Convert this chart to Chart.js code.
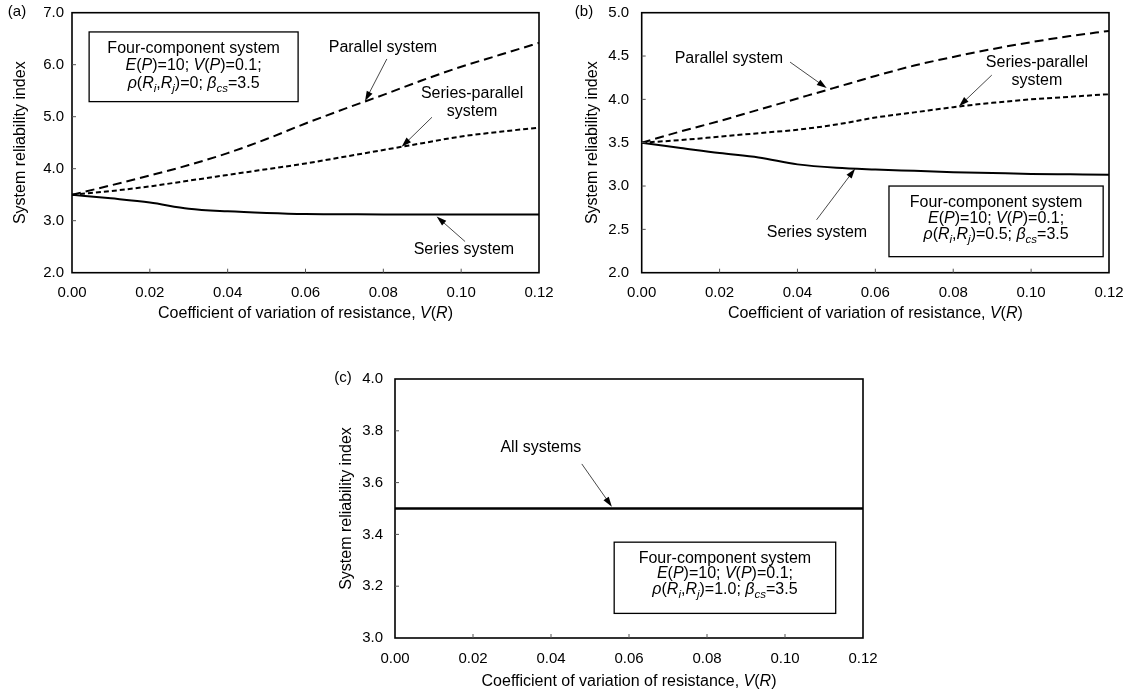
<!DOCTYPE html>
<html>
<head>
<meta charset="utf-8">
<title>System reliability index vs V(R)</title>
<script src="https://cdn.jsdelivr.net/npm/chart.js@4.4.0/dist/chart.umd.min.js"></script>
<style>
  body { margin: 0; background: #fff; width: 1128px; height: 694px; position: relative; overflow: hidden; }
  .panel { position: absolute; }
</style>
</head>
<body>
<div class="panel" style="left:0;top:0;width:560px;height:330px"><canvas id="chart-a"></canvas></div>
<div class="panel" style="left:560px;top:0;width:568px;height:330px"><canvas id="chart-b"></canvas></div>
<div class="panel" style="left:300px;top:360px;width:600px;height:334px"><canvas id="chart-c"></canvas></div>
<script>
// Data
const vrValues = [0, 0.01, 0.02, 0.03, 0.04, 0.05, 0.06, 0.07, 0.08, 0.09, 0.10, 0.11, 0.12];

// (a) rho = 0
const parallelA       = [3.50, 3.68, 3.87, 4.07, 4.30, 4.57, 4.87, 5.15, 5.42, 5.70, 5.96, 6.19, 6.42];
const seriesParallelA = [3.50, 3.57, 3.66, 3.77, 3.88, 3.99, 4.10, 4.23, 4.36, 4.49, 4.62, 4.71, 4.79];
const seriesA         = [3.50, 3.43, 3.35, 3.23, 3.18, 3.15, 3.13, 3.125, 3.12, 3.12, 3.12, 3.12, 3.12];

// (b) rho = 0.5
const parallelB       = [3.50, 3.63, 3.75, 3.88, 4.01, 4.14, 4.27, 4.39, 4.49, 4.58, 4.66, 4.73, 4.79];
const seriesParallelB = [3.50, 3.53, 3.57, 3.61, 3.65, 3.71, 3.79, 3.85, 3.91, 3.96, 4.00, 4.03, 4.06];
const seriesB         = [3.50, 3.44, 3.38, 3.33, 3.25, 3.21, 3.19, 3.175, 3.16, 3.15, 3.14, 3.135, 3.13];

// (c) rho = 1.0
const allSystemsC     = [3.50, 3.50, 3.50, 3.50, 3.50, 3.50, 3.50, 3.50, 3.50, 3.50, 3.50, 3.50, 3.50];

const xTicks = [0, 0.02, 0.04, 0.06, 0.08, 0.10, 0.12];
const yTicksA = [2.0, 3.0, 4.0, 5.0, 6.0, 7.0];
const yTicksB = [2.0, 2.5, 3.0, 3.5, 4.0, 4.5, 5.0];
const yTicksC = [3.0, 3.2, 3.4, 3.6, 3.8, 4.0];

const X_TITLE = 'Coefficient of variation of resistance, *V*(*R*)';
const Y_TITLE = 'System reliability index';
const BOX_L1 = 'Four-component system';
const BOX_L2 = '*E*(*P*)=10; *V*(*P*)=0.1;';

const FONT = '"Liberation Sans", Arial, sans-serif';
const TICK_SIZE = 15;
const TEXT_SIZE = 16;

// Styles for the three curves
const SOLID = [];
const LONG_DASH = [9, 5];
const SHORT_DASH = [5, 3];

// ---- rich text helpers (italic with *...*, subscript with _{...}) ----
function parseRich(str) {
  const segs = [];
  let italic = false, sub = false, buf = '';
  const push = () => { if (buf) segs.push({ t: buf, i: italic, s: sub }); buf = ''; };
  for (let k = 0; k < str.length; k++) {
    const c = str[k];
    if (c === '*') { push(); italic = !italic; }
    else if (c === '_' && str[k + 1] === '{') { push(); sub = true; k++; }
    else if (c === '}' && sub) { push(); sub = false; }
    else buf += c;
  }
  push();
  return segs;
}

function segFont(seg, size) {
  const s = seg.s ? size * 0.72 : size;
  return (seg.i ? 'italic ' : '') + s + 'px ' + FONT;
}

function drawRich(ctx, str, cx, cy, size) {
  const segs = parseRich(str);
  let w = 0;
  segs.forEach(seg => { ctx.font = segFont(seg, size); w += ctx.measureText(seg.t).width; });
  let x = cx - w / 2;
  ctx.textAlign = 'left';
  ctx.textBaseline = 'middle';
  segs.forEach(seg => {
    ctx.font = segFont(seg, size);
    ctx.fillText(seg.t, x, cy + (seg.s ? size * 0.3 : 0));
    x += ctx.measureText(seg.t).width;
  });
}

function drawArrow(ctx, x1, y1, x2, y2) {
  const ang = Math.atan2(y2 - y1, x2 - x1);
  const len = 10, half = 3.2;
  ctx.strokeStyle = '#333';
  ctx.lineWidth = 0.9;
  ctx.beginPath();
  ctx.moveTo(x1, y1);
  ctx.lineTo(x2 - Math.cos(ang) * len * 0.8, y2 - Math.sin(ang) * len * 0.8);
  ctx.stroke();
  ctx.fillStyle = '#000';
  ctx.beginPath();
  ctx.moveTo(x2, y2);
  ctx.lineTo(x2 - Math.cos(ang) * len - Math.sin(ang) * half, y2 - Math.sin(ang) * len + Math.cos(ang) * half);
  ctx.lineTo(x2 - Math.cos(ang) * len + Math.sin(ang) * half, y2 - Math.sin(ang) * len - Math.cos(ang) * half);
  ctx.closePath();
  ctx.fill();
}

// Frame, inward ticks, titles and annotations
const decorPlugin = {
  id: 'decor',
  afterDraw(chart) {
    const cfg = chart.options.plugins.decor;
    const { ctx, chartArea: { left, top, right, bottom }, scales: { x, y } } = chart;
    ctx.save();

    // plot frame
    ctx.strokeStyle = '#000';
    ctx.lineWidth = 1.6;
    ctx.setLineDash([]);
    ctx.strokeRect(left, top, right - left, bottom - top);

    // inward tick marks
    ctx.lineWidth = 1;
    ctx.strokeStyle = '#555';
    ctx.beginPath();
    x.ticks.forEach(t => {
      const px = x.getPixelForValue(t.value);
      if (px > left + 1 && px < right - 1) { ctx.moveTo(px, bottom); ctx.lineTo(px, bottom - 4); }
    });
    y.ticks.forEach(t => {
      const py = y.getPixelForValue(t.value);
      if (py > top + 1 && py < bottom - 1) { ctx.moveTo(left, py); ctx.lineTo(left + 4, py); }
    });
    ctx.stroke();

    ctx.fillStyle = '#000';
    // panel label
    ctx.font = TICK_SIZE + 'px ' + FONT;
    ctx.textAlign = 'center';
    ctx.textBaseline = 'middle';
    ctx.fillText(cfg.label, cfg.labelX, cfg.labelY);

    // axis titles
    drawRich(ctx, X_TITLE, (left + right) / 2, cfg.xTitleY, TEXT_SIZE);
    ctx.save();
    ctx.translate(cfg.yTitleX, (top + bottom) / 2);
    ctx.rotate(-Math.PI / 2);
    drawRich(ctx, Y_TITLE, 0, 0, TEXT_SIZE);
    ctx.restore();

    // curve labels with arrows
    cfg.notes.forEach(n => {
      n.lines.forEach((ln, k) => {
        drawRich(ctx, ln, x.getPixelForValue(n.tx), y.getPixelForValue(n.ty) + k * 18, TEXT_SIZE);
      });
      drawArrow(ctx, x.getPixelForValue(n.ax), y.getPixelForValue(n.ay),
                     x.getPixelForValue(n.hx), y.getPixelForValue(n.hy));
    });

    // parameter box
    const b = cfg.box;
    const bx1 = x.getPixelForValue(b.x1), bx2 = x.getPixelForValue(b.x2);
    const by1 = y.getPixelForValue(b.y1), by2 = y.getPixelForValue(b.y2);
    ctx.fillStyle = '#fff';
    ctx.fillRect(bx1, by1, bx2 - bx1, by2 - by1);
    ctx.strokeStyle = '#000';
    ctx.lineWidth = 1.3;
    ctx.strokeRect(bx1, by1, bx2 - bx1, by2 - by1);
    ctx.fillStyle = '#000';
    b.lines.forEach((ln, k) => {
      drawRich(ctx, ln, (bx1 + bx2) / 2, by1 + b.first + k * b.step, TEXT_SIZE);
    });

    ctx.restore();
  }
};

function lineSet(values, dash, width) {
  return {
    data: vrValues.map((v, i) => ({ x: v, y: values[i] })),
    borderColor: '#000',
    borderWidth: width,
    borderDash: dash,
    pointRadius: 0,
    fill: false,
    cubicInterpolationMode: 'monotone'
  };
}

function makeChart(id, opts) {
  const yMin = opts.yTicks[0], yMax = opts.yTicks[opts.yTicks.length - 1];
  return new Chart(document.getElementById(id), {
    type: 'line',
    data: { datasets: opts.datasets },
    options: {
      responsive: true,
      maintainAspectRatio: false,
      animation: false,
      devicePixelRatio: 1,
      layout: { padding: { left: 0, top: opts.padTop, right: opts.padRight, bottom: 0 } },
      scales: {
        x: {
          type: 'linear', min: 0, max: 0.12,
          afterBuildTicks: s => { s.ticks = xTicks.map(v => ({ value: v })); },
          afterFit: s => { s.height = opts.xHeight; s.paddingLeft = 0; s.paddingRight = 0; },
          grid: { display: false, drawTicks: false },
          border: { display: false },
          ticks: { padding: opts.xTickPad, color: '#000', font: { family: FONT, size: TICK_SIZE },
                   maxRotation: 0, callback: v => v.toFixed(2) }
        },
        y: {
          type: 'linear', min: yMin, max: yMax,
          afterBuildTicks: s => { s.ticks = opts.yTicks.map(v => ({ value: v })); },
          afterFit: s => { s.width = opts.yWidth; s.paddingTop = 0; s.paddingBottom = 0; },
          grid: { display: false, drawTicks: false },
          border: { display: false },
          ticks: { padding: opts.yTickPad, color: '#000', font: { family: FONT, size: TICK_SIZE },
                   callback: v => v.toFixed(1) }
        }
      },
      plugins: {
        legend: { display: false },
        tooltip: { enabled: false },
        decor: opts.decor
      }
    },
    plugins: [decorPlugin]
  });
}

// (a)
makeChart('chart-a', {
  datasets: [
    lineSet(parallelA, LONG_DASH, 2),
    lineSet(seriesParallelA, SHORT_DASH, 2),
    lineSet(seriesA, SOLID, 2)
  ],
  yTicks: yTicksA, padTop: 12.7, padRight: 21, xHeight: 57.3, yWidth: 72, yTickPad: 8, xTickPad: 11,
  decor: {
    label: '(a)', labelX: 17, labelY: 12, yTitleX: 21, xTitleY: 314,
    notes: [
      { lines: ['Parallel system'], tx: 0.0799, ty: 6.32, ax: 0.0809, ay: 6.11, hx: 0.0753, hy: 5.30 },
      { lines: ['Series-parallel', 'system'], tx: 0.1028, ty: 5.44, ax: 0.0925, ay: 4.99, hx: 0.0847, hy: 4.42 },
      { lines: ['Series system'], tx: 0.1007, ty: 2.44, ax: 0.1010, ay: 2.60, hx: 0.0937, hy: 3.08 }
    ],
    box: { x1: 0.0044, x2: 0.0581, y1: 6.63, y2: 5.29, first: 16.6, step: 17.5,
           lines: [BOX_L1, BOX_L2, '*ρ*(*R*_{*i*},*R*_{*j*})=0; *β*_{*cs*}=3.5'] }
  }
});

// (b)
makeChart('chart-b', {
  datasets: [
    lineSet(parallelB, LONG_DASH, 2),
    lineSet(seriesParallelB, SHORT_DASH, 2),
    lineSet(seriesB, SOLID, 2)
  ],
  yTicks: yTicksB, padTop: 12.7, padRight: 19, xHeight: 57.3, yWidth: 81.7, yTickPad: 12.5, xTickPad: 11,
  decor: {
    label: '(b)', labelX: 24, labelY: 12, yTitleX: 33, xTitleY: 314,
    notes: [
      { lines: ['Parallel system'], tx: 0.0224, ty: 4.476, ax: 0.0381, ay: 4.43, hx: 0.0475, hy: 4.13 },
      { lines: ['Series-parallel', 'system'], tx: 0.1015, ty: 4.42, ax: 0.0899, ay: 4.28, hx: 0.0815, hy: 3.92 },
      { lines: ['Series system'], tx: 0.0450, ty: 2.46, ax: 0.0449, ay: 2.61, hx: 0.0548, hy: 3.20 }
    ],
    box: { x1: 0.0635, x2: 0.1185, y1: 3.00, y2: 2.185, first: 16.6, step: 16,
           lines: [BOX_L1, BOX_L2, '*ρ*(*R*_{*i*},*R*_{*j*})=0.5; *β*_{*cs*}=3.5'] }
  }
});

// (c)
makeChart('chart-c', {
  datasets: [
    lineSet(allSystemsC, SOLID, 2.5)
  ],
  yTicks: yTicksC, padTop: 19, padRight: 37, xHeight: 56, yWidth: 95, yTickPad: 12, xTickPad: 11.5,
  decor: {
    label: '(c)', labelX: 43, labelY: 18, yTitleX: 47, xTitleY: 321.7,
    notes: [
      { lines: ['All systems'], tx: 0.0374, ty: 3.734, ax: 0.0479, ay: 3.672, hx: 0.0556, hy: 3.507 }
    ],
    box: { x1: 0.0562, x2: 0.1130, y1: 3.370, y2: 3.095, first: 16, step: 15.8,
           lines: [BOX_L1, BOX_L2, '*ρ*(*R*_{*i*},*R*_{*j*})=1.0; *β*_{*cs*}=3.5'] }
  }
});
</script>
</body>
</html>
